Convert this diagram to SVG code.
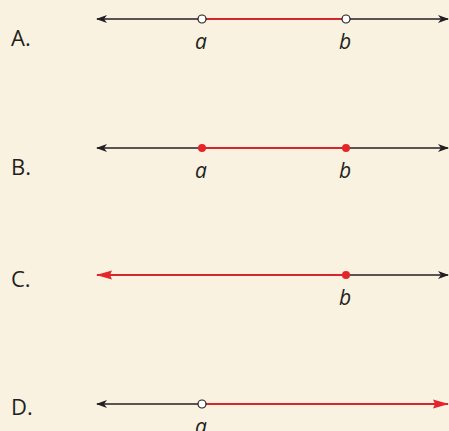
<svg xmlns="http://www.w3.org/2000/svg" width="449" height="431" viewBox="0 0 449 431">
<defs>
<style>
.lbl{font-family:"Open Sans","Liberation Sans",sans-serif;font-size:22px;fill:#231f20}
.var{font-family:"Open Sans","Liberation Sans",sans-serif;font-size:21px;font-style:italic;fill:#231f20;text-anchor:middle}
.blk{stroke:#231f20;stroke-width:1.6;fill:none}
.red{stroke:#d7262b;stroke-width:2;fill:none}
.open{fill:#fff;stroke:#231f20;stroke-width:1.2}
.dot{fill:#e3262b}
</style>
<marker id="ab" markerWidth="11" markerHeight="8" refX="10" refY="4" orient="auto-start-reverse" markerUnits="userSpaceOnUse"><path d="M0,0 L11,4 L0,8 L3,4 Z" fill="#231f20"/></marker>
<marker id="ar" markerWidth="16" markerHeight="10" refX="15" refY="5" orient="auto-start-reverse" markerUnits="userSpaceOnUse"><path d="M0,0.5 L16,5 L0,9.5 L2,5 Z" fill="#e3262b"/></marker>
</defs>
<rect width="449" height="431" fill="#faf2e1"/>
<g id="connectors">
<line class="blk" x1="97" y1="19" x2="202" y2="19" marker-start="url(#ab)"/>
<line class="red" x1="202" y1="19" x2="346" y2="19"/>
<line class="blk" x1="346" y1="19" x2="448" y2="19" marker-end="url(#ab)"/>
<line class="blk" x1="97" y1="148" x2="202" y2="148" marker-start="url(#ab)"/>
<line class="red" x1="202" y1="148" x2="346" y2="148"/>
<line class="blk" x1="346" y1="148" x2="448" y2="148" marker-end="url(#ab)"/>
<line class="red" x1="97" y1="275" x2="346" y2="275" marker-start="url(#ar)"/>
<line class="blk" x1="346" y1="275" x2="448" y2="275" marker-end="url(#ab)"/>
<line class="blk" x1="97" y1="404" x2="202" y2="404" marker-start="url(#ab)"/>
<line class="red" x1="202" y1="404" x2="448" y2="404" marker-end="url(#ar)"/>
</g>
<g id="A">
<text class="lbl" x="11" y="46">A.</text>
<circle class="open" cx="202" cy="19" r="4"/>
<circle class="open" cx="346" cy="19" r="4"/>
<text class="var" x="201" y="49">a</text>
<text class="var" x="345" y="49">b</text>
</g>
<g id="B">
<text class="lbl" x="11" y="175">B.</text>
<circle class="dot" cx="202" cy="148" r="4"/>
<circle class="dot" cx="346" cy="148" r="4"/>
<text class="var" x="201" y="178">a</text>
<text class="var" x="345" y="178">b</text>
</g>
<g id="C">
<text class="lbl" x="11" y="287">C.</text>
<circle class="dot" cx="346" cy="275" r="4"/>
<text class="var" x="345" y="305">b</text>
</g>
<g id="D">
<text class="lbl" x="11" y="415">D.</text>
<circle class="open" cx="202" cy="404" r="4"/>
<text class="var" x="201" y="434">a</text>
</g>
</svg>
